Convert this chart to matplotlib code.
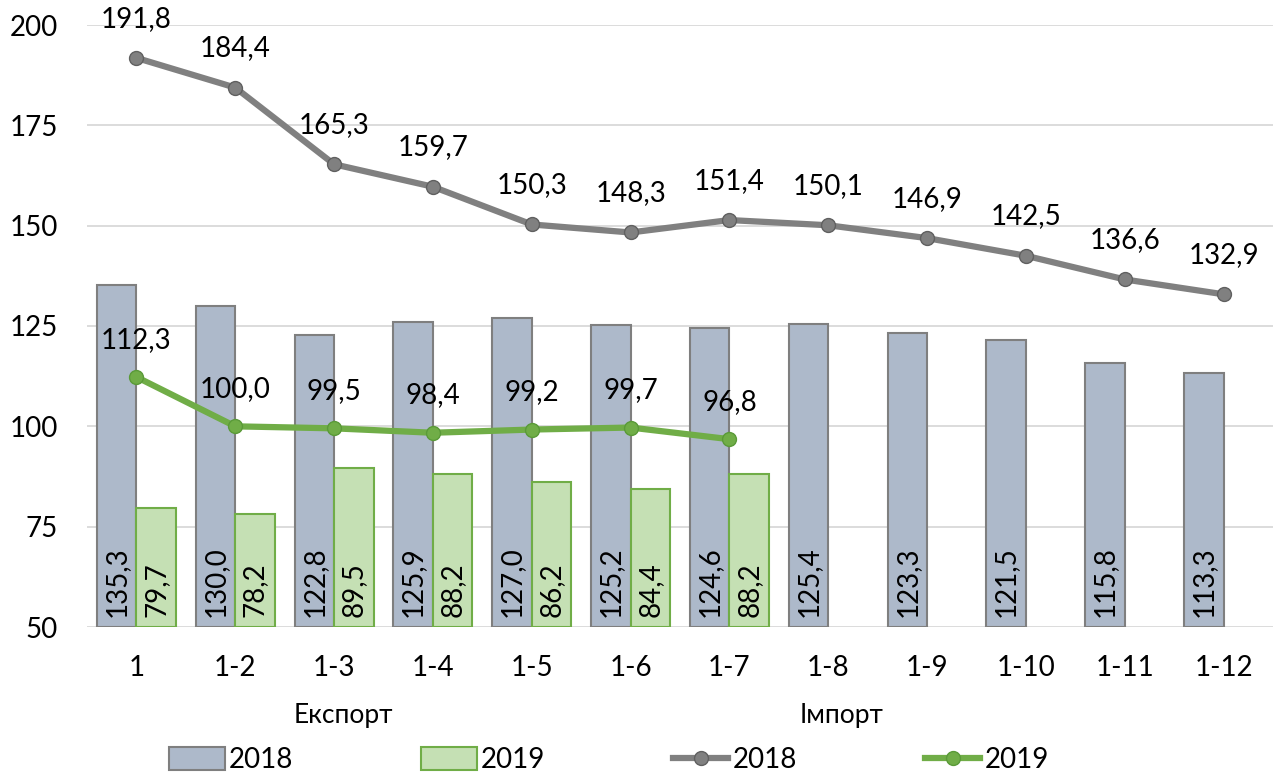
import matplotlib
matplotlib.use("Agg")
import matplotlib.pyplot as plt
import numpy as np
from matplotlib.lines import Line2D
from matplotlib.patches import Patch

# ─── Data ─────────────────────────────────────────────────────────────────────
categories  = ["1", "1-2", "1-3", "1-4", "1-5", "1-6", "1-7", "1-8", "1-9", "1-10", "1-11", "1-12"]
export_2018 = [135.3, 130.0, 122.8, 125.9, 127.0, 125.2, 124.6, 125.4, 123.3, 121.5, 115.8, 113.3]
export_2019 = [79.7, 78.2, 89.5, 88.2, 86.2, 84.4, 88.2]
import_2018 = [191.8, 184.4, 165.3, 159.7, 150.3, 148.3, 151.4, 150.1, 146.9, 142.5, 136.6, 132.9]
import_2019 = [112.3, 100.0, 99.5, 98.4, 99.2, 99.7, 96.8]
y_ticks     = [50, 75, 100, 125, 150, 175, 200]

FONT = "Lato"
FS = 20
BAR18_FILL, BAR18_EDGE = "#adb9ca", "#7f7f7f"
BAR19_FILL, BAR19_EDGE = "#c5e0b4", "#70ad47"
LINE18, LINE18_EDGE = "#808080", "#606060"
LINE19, LINE19_EDGE = "#70ad47", "#5a9a38"


def fmt(v: float) -> str:
    return f"{v:.1f}".replace(".", ",")


plt.rcParams["font.family"] = [FONT, "DejaVu Sans"]

fig = plt.figure(figsize=(12.74, 7.76), dpi=100)
ax = fig.add_axes([87 / 1274, 1 - 627 / 776, 1186 / 1274, 602 / 776])

x = np.arange(len(categories))
w = 0.4
x19 = x[:len(export_2019)]

ax.bar(x - w / 2, [v - 50 for v in export_2018], w, bottom=50, color=BAR18_FILL,
       edgecolor=BAR18_EDGE, linewidth=1.5, zorder=2)
ax.bar(x19 + w / 2, [v - 50 for v in export_2019], w, bottom=50, color=BAR19_FILL,
       edgecolor=BAR19_EDGE, linewidth=1.5, zorder=2)

for xi, v in zip(x, export_2018):
    ax.text(xi - w / 2, 52.5, fmt(v), rotation=90, ha="center", va="bottom",
            fontsize=FS, zorder=3)
for xi, v in zip(x19, export_2019):
    ax.text(xi + w / 2, 52.5, fmt(v), rotation=90, ha="center", va="bottom",
            fontsize=FS, zorder=3)

ax.plot(x, import_2018, "-o", color=LINE18, linewidth=4.5, markersize=10,
        markerfacecolor=LINE18, markeredgecolor=LINE18_EDGE, markeredgewidth=1, zorder=4)
ax.plot(x19, import_2019, "-o", color=LINE19, linewidth=4.5, markersize=10,
        markerfacecolor=LINE19, markeredgecolor=LINE19_EDGE, markeredgewidth=1, zorder=4)

for xi, v in zip(x, import_2018):
    ax.text(xi, v + 9.8, fmt(v), ha="center", va="center", fontsize=FS, zorder=5)
for xi, v in zip(x19, import_2019):
    ax.text(xi, v + 9.3, fmt(v), ha="center", va="center", fontsize=FS, zorder=5)

ax.set_xlim(-0.5, len(categories) - 0.5)
ax.set_ylim(50, 200)
ax.set_yticks(y_ticks)
ax.set_xticks(x)
ax.set_xticklabels(categories)
ax.tick_params(axis="both", length=0, labelsize=FS)
ax.tick_params(axis="x", pad=20)
ax.tick_params(axis="y", pad=21)
ax.grid(axis="y", color="#d9d9d9", linewidth=1.3, zorder=0)
ax.set_axisbelow(True)
for s in ax.spines.values():
    s.set_visible(False)

fig.text(343 / 1274, 1 - 716 / 776, "Експорт", ha="center", va="center", fontsize=FS - 1)
fig.text(842 / 1274, 1 - 716 / 776, "Імпорт", ha="center", va="center", fontsize=FS - 1)

handles = [
    Patch(facecolor=BAR18_FILL, edgecolor=BAR18_EDGE, linewidth=1.5),
    Patch(facecolor=BAR19_FILL, edgecolor=BAR19_EDGE, linewidth=1.5),
    Line2D([], [], color=LINE18, linewidth=4.5, marker="o", markersize=10,
           markerfacecolor=LINE18, markeredgecolor=LINE18_EDGE),
    Line2D([], [], color=LINE19, linewidth=4.5, marker="o", markersize=10,
           markerfacecolor=LINE19, markeredgecolor=LINE19_EDGE),
]
fig.legend(handles, ["2018", "2019", "2018", "2019"], loc="center",
           bbox_to_anchor=(609 / 1274, 1 - 760 / 776), ncol=4, frameon=False,
           fontsize=FS, handlelength=2.0, handleheight=0.9, handletextpad=0.15,
           columnspacing=4.6)

fig.savefig("out.png", dpi=100)
